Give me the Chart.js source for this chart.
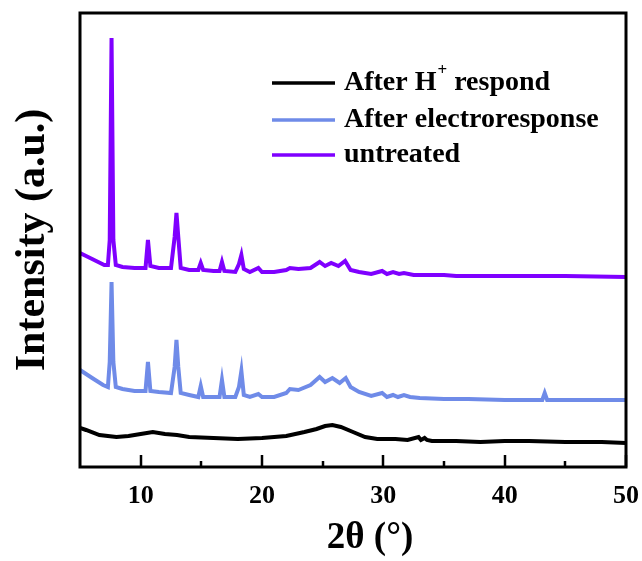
<!DOCTYPE html>
<html>
<head>
<meta charset="utf-8">
<script src="https://cdn.jsdelivr.net/npm/chart.js@4"></script>
<style>
  html, body { margin: 0; padding: 0; background: #fff; }
</style>
</head>
<body>
<canvas id="xrdChart" width="642" height="561"></canvas>
<script>
// 2theta positions and intensities (a.u.)
const acidX = [5, 5.5, 6.6, 8, 9, 10, 11, 12, 13, 14, 16, 18, 20, 22, 23.5, 24.5, 25.2, 25.8, 26.5, 27.5, 28.5, 29.5, 31, 32, 32.9, 33.1, 33.4, 33.6, 34, 36, 38, 40, 42, 45, 48, 50];
const acidY = [39, 37, 32, 30, 31, 33, 35, 33, 32, 30, 29, 28, 29, 31, 35, 38, 41, 42, 40, 35, 30, 28, 28, 27, 30, 27, 29, 27, 26, 26, 25, 26, 26, 25, 25, 24];

const electroX = [5, 5.5, 6, 6.9, 7.3, 7.45, 7.6, 7.75, 7.95, 8.5, 9.5, 10.4, 10.6, 10.8, 11.5, 12.5, 12.8, 12.95, 13.1, 13.3, 14, 14.75, 14.95, 15.15, 16, 16.5, 16.7, 16.9, 17.8, 18.1, 18.3, 18.5, 19, 19.7, 20, 21, 22, 22.3, 23, 24, 24.75, 25.2, 25.8, 26.4, 26.9, 27.3, 28, 29, 29.9, 30.3, 30.8, 31.2, 31.7, 32.2, 33, 35, 37, 40, 43.1, 43.3, 43.5, 46, 50];
const electroY = [97, 93, 89, 82, 80, 105, 185, 105, 80, 78, 76, 76, 105, 76, 75, 74, 100, 127, 100, 74, 72, 70, 81, 70, 70, 70, 87, 70, 70, 80, 96, 72, 70, 73, 70, 70, 74, 78, 77, 82, 90, 85, 89, 84, 89, 80, 75, 71, 74, 70, 72, 70, 72, 70, 69, 68, 68, 67, 67, 74, 67, 67, 67];

const rawX = [5, 5.5, 6, 6.5, 7, 7.3, 7.45, 7.6, 7.75, 7.95, 8.5, 9.5, 10.4, 10.6, 10.8, 11.5, 12.5, 12.8, 12.95, 13.1, 13.3, 14, 14.75, 14.95, 15.15, 16, 16.5, 16.7, 16.9, 17.8, 18.1, 18.3, 18.5, 19, 19.7, 20, 21, 22, 22.3, 23, 24, 24.75, 25.2, 25.7, 26.3, 26.85, 27.3, 28, 29, 29.9, 30.3, 30.8, 31.3, 31.7, 32.5, 35, 36, 40, 45, 50];
const rawY = [214, 211, 208, 205, 202, 202, 227, 429, 227, 202, 200, 199, 199, 227, 201, 199, 199, 230, 254, 230, 199, 197, 197, 204, 197, 196, 196, 205, 196, 195, 203, 212, 198, 195, 199, 195, 195, 197, 199, 198, 199, 205, 201, 204, 201, 206, 197, 195, 193, 196, 193, 195, 193, 194, 192, 192, 191, 191, 191, 190];

const seriesLabels = ["After H+ respond", "After electroresponse", "untreated"];
const seriesColors = ["#000000", "#6f8be8", "#7f00ff"];
const xTickValues = [10, 20, 30, 40, 50];
const xMinorValues = [15, 25, 35, 45];
const xTitle = "2θ (°)";

const toPoints = (xs, ys) => xs.map((x, i) => ({ x, y: ys[i] }));
const serif = "'Liberation Serif', 'Times New Roman', serif";

// full frame + inward ticks on the bottom axis + x title (sits a bit right of centre)
const framePlugin = {
  id: "frame",
  afterDraw(chart) {
    const { ctx, chartArea: a, scales } = chart;
    ctx.save();
    ctx.strokeStyle = "#000";
    ctx.lineWidth = 3;
    ctx.strokeRect(a.left, a.top, a.right - a.left, a.bottom - a.top);
    ctx.lineWidth = 2.5;
    const tick = (v, len) => {
      const px = Math.round(scales.x.getPixelForValue(v));
      ctx.beginPath();
      ctx.moveTo(px, a.bottom);
      ctx.lineTo(px, a.bottom - len);
      ctx.stroke();
    };
    xTickValues.forEach(v => tick(v, 12));
    xMinorValues.forEach(v => tick(v, 6));

    ctx.fillStyle = "#000";
    ctx.font = "bold 37px " + serif;
    ctx.textAlign = "center";
    ctx.textBaseline = "middle";
    ctx.fillText(xTitle, (a.left + a.right) / 2 + 17, 538);
    ctx.restore();
  }
};

// legend drawn by hand so the "+" in H+ can be a superscript
const legendPlugin = {
  id: "xrdLegend",
  afterDraw(chart) {
    const { ctx } = chart;
    const rows = [83, 120, 155];
    ctx.save();
    chart.data.datasets.forEach((ds, i) => {
      const y = rows[i];
      ctx.strokeStyle = ds.borderColor;
      ctx.lineWidth = 3.5;
      ctx.beginPath();
      ctx.moveTo(272, y);
      ctx.lineTo(335, y);
      ctx.stroke();

      ctx.fillStyle = "#000";
      ctx.textBaseline = "middle";
      ctx.font = "bold 28px " + serif;
      const label = ds.label;
      const cut = label.indexOf("H+");
      if (cut >= 0) {
        const head = label.slice(0, cut + 1);
        const tail = label.slice(cut + 2);
        let x = 344;
        ctx.fillText(head, x, y);
        x += ctx.measureText(head).width;
        ctx.font = "bold 17px " + serif;
        ctx.fillText("+", x + 1, y - 12);
        x += ctx.measureText("+").width + 1;
        ctx.font = "bold 28px " + serif;
        ctx.fillText(tail, x, y);
      } else {
        ctx.fillText(label, 344, y);
      }
    });
    ctx.restore();
  }
};

const datasets = [
  { label: seriesLabels[0], data: toPoints(acidX, acidY), borderColor: seriesColors[0] },
  { label: seriesLabels[1], data: toPoints(electroX, electroY), borderColor: seriesColors[1] },
  { label: seriesLabels[2], data: toPoints(rawX, rawY), borderColor: seriesColors[2] }
].map(d => ({ ...d, borderWidth: 4, pointRadius: 0, tension: 0, fill: false }));

new Chart(document.getElementById("xrdChart"), {
  type: "line",
  data: { datasets },
  options: {
    responsive: false,
    animation: false,
    layout: { padding: { top: 13, right: 16, left: 0, bottom: 0 } },
    plugins: { legend: { display: false }, tooltip: { enabled: false } },
    scales: {
      x: {
        type: "linear",
        min: 5,
        max: 50,
        afterBuildTicks: s => { s.ticks = xTickValues.map(v => ({ value: v })); },
        afterFit: s => { s.height = 94; s.paddingLeft = 0; s.paddingRight = 0; },
        grid: { display: false, drawTicks: false },
        border: { display: false },
        ticks: {
          color: "#000",
          padding: 14,
          maxRotation: 0,
          font: { family: serif, size: 26, weight: "bold" }
        },
        title: { display: false }
      },
      y: {
        min: 0,
        max: 454,
        afterFit: s => { s.width = 80; s.paddingTop = 0; s.paddingBottom = 0; },
        grid: { display: false, drawTicks: false },
        border: { display: false },
        ticks: { display: false },
        title: {
          display: true,
          text: "Intensity (a.u.)",
          color: "#000",
          padding: { top: 8, bottom: 0 },
          font: { family: serif, size: 42, weight: "bold", lineHeight: 1.2 }
        }
      }
    }
  },
  plugins: [framePlugin, legendPlugin]
});
</script>
</body>
</html>
